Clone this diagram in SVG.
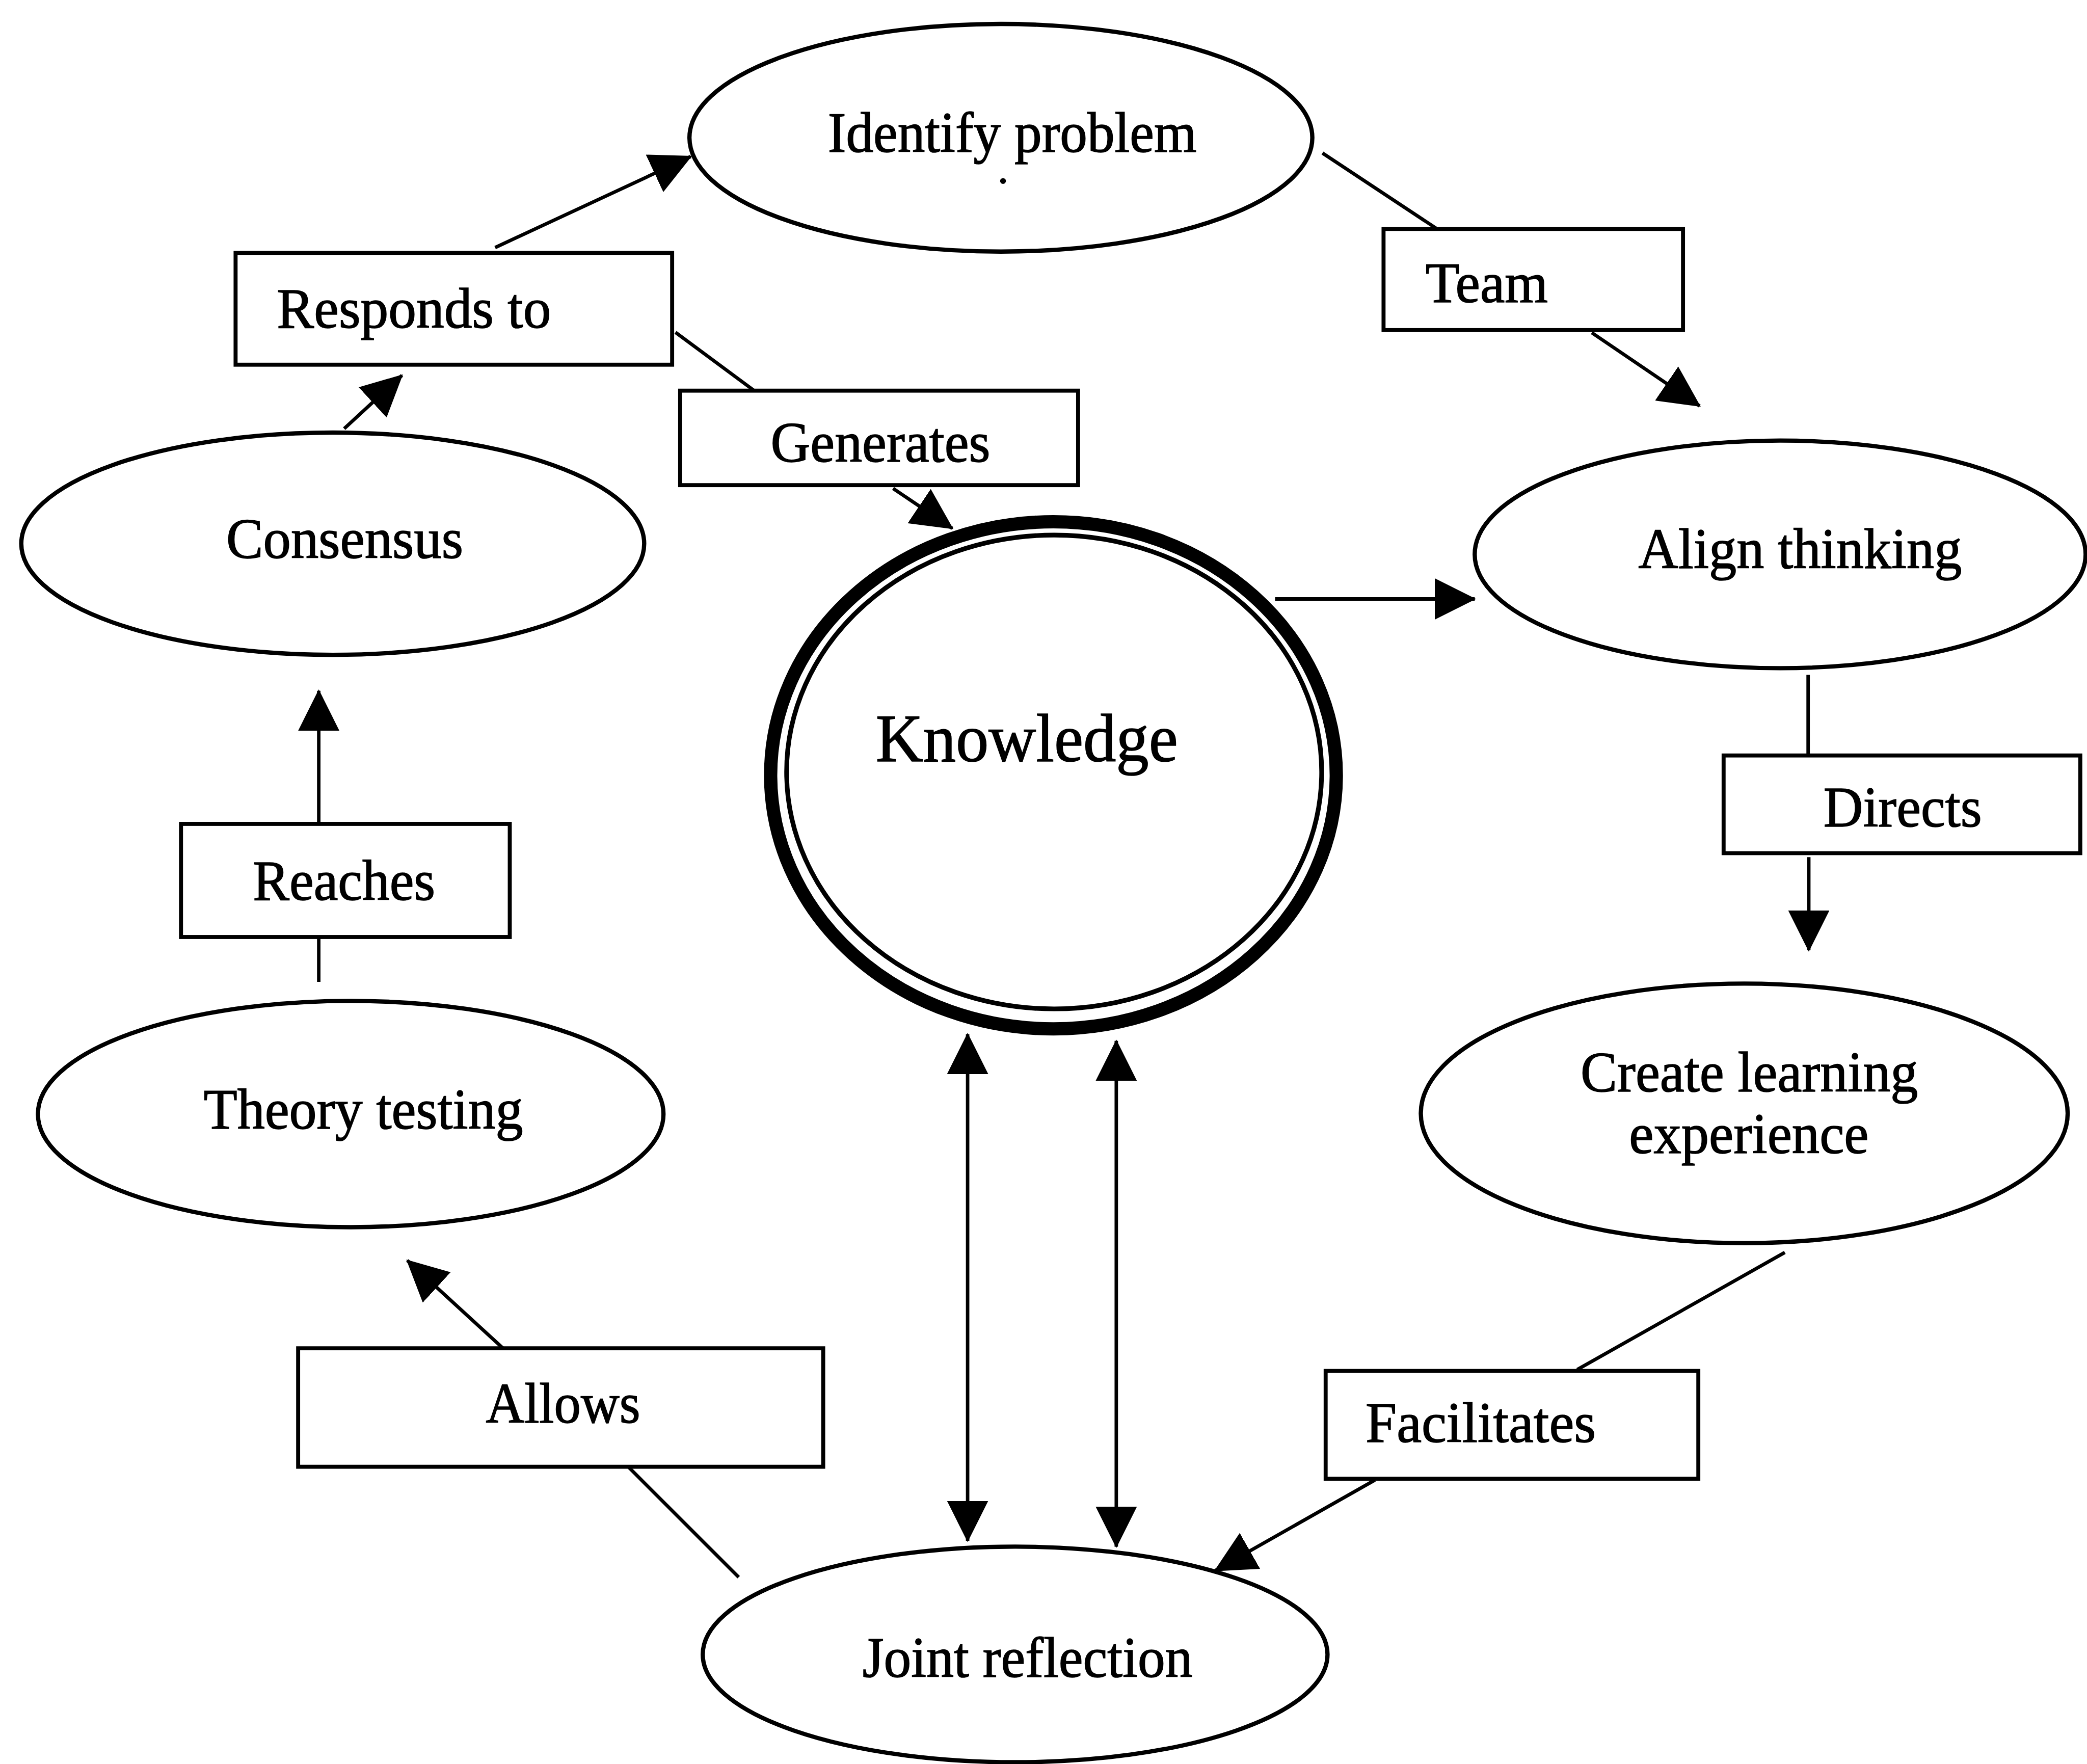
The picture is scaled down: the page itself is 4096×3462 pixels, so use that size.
<svg xmlns="http://www.w3.org/2000/svg" width="4096" height="3462" viewBox="0 0 4096 3462">
<style>
.el{fill:none;stroke:#000;stroke-width:3.2}
.bx{fill:#fff;stroke:#000;stroke-width:3}
.ln{fill:none;stroke:#000;stroke-width:2.6}
.t{font-family:"Liberation Serif","Times New Roman",serif;font-size:43px;fill:#000;stroke:#000;stroke-width:0.6}
.k{font-family:"Liberation Serif","Times New Roman",serif;font-size:51px;fill:#000;stroke:#000;stroke-width:0.6}
</style>
<defs>
<marker id="ah" viewBox="0 0 31 31" markerWidth="31" markerHeight="31" refX="30" refY="15.5" orient="auto-start-reverse" markerUnits="userSpaceOnUse">
<path d="M0,0 L31,15.5 L0,31 z" fill="#000"/>
</marker>
</defs>
<rect x="0" y="0" width="4096" height="3462" fill="#fff"/>
<g transform="scale(2.6122)">
<g id="connectors">
<line class="ln" x1="372" y1="186" x2="519" y2="117.6" marker-end="url(#ah)"/>
<line class="ln" x1="507.5" y1="249.7" x2="566" y2="293"/>
<line class="ln" x1="671" y1="367" x2="715.5" y2="397" marker-end="url(#ah)"/>
<line class="ln" x1="993.6" y1="115" x2="1079" y2="171.5"/>
<line class="ln" x1="1196" y1="250" x2="1277" y2="305" marker-end="url(#ah)"/>
<line class="ln" x1="958" y1="450" x2="1108" y2="450" marker-end="url(#ah)"/>
<line class="ln" x1="1358.5" y1="507" x2="1358.5" y2="568"/>
<line class="ln" x1="1359" y1="644" x2="1359" y2="714" marker-end="url(#ah)"/>
<line class="ln" x1="1341" y1="941" x2="1185" y2="1029"/>
<line class="ln" x1="1033" y1="1112" x2="913" y2="1180" marker-end="url(#ah)"/>
<line class="ln" x1="555" y1="1185" x2="472" y2="1102"/>
<line class="ln" x1="378" y1="1013" x2="306" y2="947" marker-end="url(#ah)"/>
<line class="ln" x1="239.5" y1="737.7" x2="239.5" y2="705"/>
<line class="ln" x1="239.5" y1="619" x2="239.5" y2="519" marker-end="url(#ah)"/>
<line class="ln" x1="258.6" y1="322" x2="302" y2="282" marker-end="url(#ah)"/>
<line class="ln" x1="727" y1="777" x2="727" y2="1157.6" marker-start="url(#ah)" marker-end="url(#ah)"/>
<line class="ln" x1="838.7" y1="782" x2="838.7" y2="1162" marker-start="url(#ah)" marker-end="url(#ah)"/>
</g>
<g id="identify-problem">
<ellipse class="el" cx="752" cy="103.5" rx="234" ry="85.5"/>
<text class="t" x="622" y="114" textLength="277" lengthAdjust="spacingAndGlyphs">Identify problem</text>
<circle cx="753.6" cy="136" r="2.2" fill="#000"/>
</g>
<g id="responds-to">
<rect class="bx" x="177" y="190" width="328" height="84"/>
<text class="t" x="208" y="246" textLength="206" lengthAdjust="spacingAndGlyphs">Responds to</text>
</g>
<g id="generates">
<rect class="bx" x="511" y="293.5" width="299" height="71"/>
<text class="t" x="579" y="347" textLength="165" lengthAdjust="spacingAndGlyphs">Generates</text>
</g>
<g id="team">
<rect class="bx" x="1039.5" y="172" width="225" height="76"/>
<text class="t" x="1071" y="227" textLength="92" lengthAdjust="spacingAndGlyphs">Team</text>
</g>
<g id="consensus">
<ellipse class="el" cx="250" cy="408.5" rx="234" ry="83.5"/>
<text class="t" x="170" y="419" textLength="178" lengthAdjust="spacingAndGlyphs">Consensus</text>
</g>
<g id="knowledge">
<ellipse cx="791.5" cy="582.5" rx="212.5" ry="190.5" fill="none" stroke="#000" stroke-width="10"/>
<ellipse cx="792" cy="580" rx="201" ry="178" fill="none" stroke="#000" stroke-width="3.5"/>
<text class="k" x="658" y="572" textLength="227" lengthAdjust="spacingAndGlyphs">Knowledge</text>
</g>
<g id="align-thinking">
<ellipse class="el" cx="1337.5" cy="416.5" rx="229.5" ry="85.5"/>
<text class="t" x="1231" y="427" textLength="243" lengthAdjust="spacingAndGlyphs">Align thinking</text>
</g>
<g id="directs">
<rect class="bx" x="1295" y="567.6" width="268" height="73.4"/>
<text class="t" x="1370" y="621" textLength="119" lengthAdjust="spacingAndGlyphs">Directs</text>
</g>
<g id="create-learning-experience">
<ellipse class="el" cx="1310.5" cy="836.5" rx="243" ry="97.5"/>
<text class="t" x="1187.5" y="820" textLength="253.5" lengthAdjust="spacingAndGlyphs">Create learning</text>
<text class="t" x="1224" y="866.5" textLength="180" lengthAdjust="spacingAndGlyphs">experience</text>
</g>
<g id="reaches">
<rect class="bx" x="136" y="619" width="247" height="85"/>
<text class="t" x="190" y="676" textLength="137" lengthAdjust="spacingAndGlyphs">Reaches</text>
</g>
<g id="theory-testing">
<ellipse class="el" cx="263.5" cy="837" rx="235" ry="85"/>
<text class="t" x="153" y="848" textLength="240" lengthAdjust="spacingAndGlyphs">Theory testing</text>
</g>
<g id="allows">
<rect class="bx" x="224" y="1013" width="394.5" height="89"/>
<text class="t" x="365" y="1069" textLength="116" lengthAdjust="spacingAndGlyphs">Allows</text>
</g>
<g id="facilitates">
<rect class="bx" x="996" y="1030" width="280" height="81"/>
<text class="t" x="1026" y="1083.5" textLength="173" lengthAdjust="spacingAndGlyphs">Facilitates</text>
</g>
<g id="joint-reflection">
<ellipse class="el" cx="762.7" cy="1243" rx="234.7" ry="81"/>
<text class="t" x="648" y="1260" textLength="248" lengthAdjust="spacingAndGlyphs">Joint reflection</text>
</g>
</g>
</svg>
